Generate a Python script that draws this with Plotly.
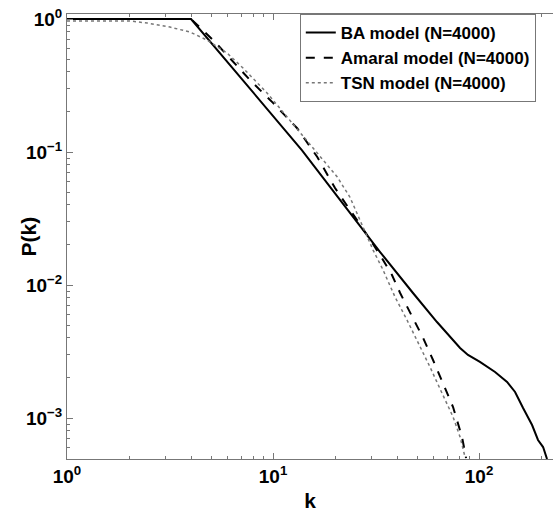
import plotly.graph_objects as go

# ---- data ----
ba_k = [1, 4, 13.8, 33.1, 47.8, 62.5, 80.9, 88.4, 101, 119.6, 136.8, 149.6, 163.6, 180.9, 193.3, 204.6, 213.8]
ba_p = [1, 1, 0.1035, 0.0177, 0.00871, 0.00527, 0.00336, 0.00298, 0.00264, 0.00222, 0.00187, 0.00157, 0.00119, 0.000886, 0.000684, 0.000605, 0.000492]

am_k = [1, 4, 5.23, 6.4, 7.73, 10.0, 13.1, 16.4, 20.0, 23.1, 27.0, 33.1, 37.8, 41.4, 47.3, 53.5, 59.8, 66.9, 74.8, 82.7, 86.5]
am_p = [1, 1, 0.671, 0.475, 0.348, 0.234, 0.151, 0.0917, 0.0536, 0.0386, 0.0273, 0.0168, 0.0119, 0.00871, 0.00574, 0.00400, 0.00273, 0.00183, 0.00121, 0.000719, 0.0005]

tsn_k = [1, 2.02, 2.45, 3.16, 3.95, 4.78, 5.98, 7.15, 9.35, 11.7, 14.6, 17.5, 20.5, 23.6, 27.0, 30.6, 34.2, 39.1, 44.7, 50.0, 57.8, 66.1, 74.8, 80.9, 85.5]
tsn_p = [0.966, 0.966, 0.933, 0.870, 0.798, 0.695, 0.555, 0.428, 0.278, 0.183, 0.123, 0.0871, 0.0649, 0.0459, 0.0283, 0.0183, 0.0130, 0.00813, 0.00546, 0.00386, 0.00242, 0.00154, 0.00102, 0.00072, 0.00051]

series_names = ["BA model (N=4000)", "Amaral model (N=4000)", "TSN model (N=4000)"]

x_tickvals = [1, 10, 100]
x_ticktext = ["10<sup>0</sup>", "10<sup>1</sup>", "10<sup>2</sup>"]
y_tickvals = [0.001, 0.01, 0.1, 1]
y_ticktext = ["10<sup>\u22123</sup>", "10<sup>\u22122</sup>", "10<sup>\u22121</sup>", "10<sup>0</sup>"]

x_minor = [m * d for d in (1, 10, 100) for m in range(2, 10)]
y_minor = [m * d for d in (1e-4, 1e-3, 1e-2, 1e-1) for m in range(2, 10)]

FONT = "Liberation Sans, Arial, Helvetica, sans-serif"

fig = go.Figure()
fig.add_trace(go.Scatter(x=ba_k, y=ba_p, mode="lines", name=series_names[0],
                         line=dict(color="black", width=2, dash="solid")))
fig.add_trace(go.Scatter(x=am_k, y=am_p, mode="lines", name=series_names[1],
                         line=dict(color="black", width=2, dash="dash")))
fig.add_trace(go.Scatter(x=tsn_k, y=tsn_p, mode="lines", name=series_names[2],
                         line=dict(color="#777777", width=1.5, dash="dot")))

axis_common = dict(
    showgrid=False, zeroline=False, showline=True, linecolor="#777777", linewidth=1,
    ticks="inside", ticklen=6, tickcolor="#777777",
    tickfont=dict(family=FONT, size=19, color="black", weight="bold"),
)

fig.update_xaxes(type="log", range=[0, 2.359], tickmode="array",
                 tickvals=x_tickvals, ticktext=x_ticktext, mirror="ticks",
                 minor=dict(tickmode="array", tickvals=x_minor, ticks="inside", ticklen=3, tickcolor="#777777"),
                 title=dict(text="k", font=dict(family=FONT, size=21, color="black", weight="bold"), standoff=11),
                 **axis_common)
fig.update_yaxes(type="log", range=[-3.308, 0.0376], tickmode="array",
                 tickvals=y_tickvals, ticktext=y_ticktext, mirror=False,
                 minor=dict(tickmode="array", tickvals=y_minor, ticks="inside", ticklen=3, tickcolor="#777777"),
                 **axis_common)

fig.add_annotation(text="P(k)", xref="paper", yref="paper", x=-0.0802, y=0.5,
                   xanchor="center", yanchor="middle", textangle=-90, showarrow=False,
                   font=dict(family=FONT, size=21, color="black", weight="bold"))

fig.update_layout(
    width=553, height=512,
    margin=dict(l=67, r=0, t=14, b=53),
    plot_bgcolor="white", paper_bgcolor="white",
    legend=dict(x=0.479, y=1.0, xanchor="left", yanchor="top",
                bgcolor="white", bordercolor="#777777", borderwidth=1,
                font=dict(family=FONT, size=17, color="black", weight="bold"),
                tracegroupgap=0, itemwidth=30),
    showlegend=True,
)

fig.write_html("out.html")
